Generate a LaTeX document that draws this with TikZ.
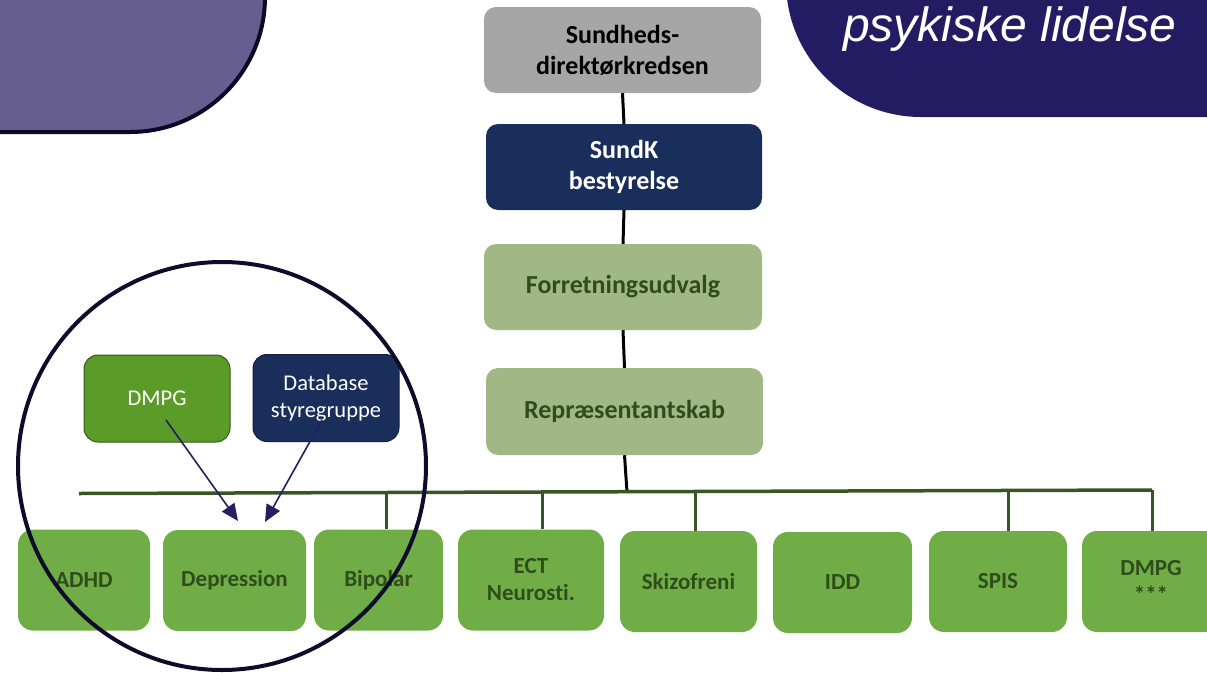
\documentclass[tikz,border=0pt]{standalone}
\usepackage{fontspec}
\setmainfont{Carlito}[Ligatures={NoCommon}]
\newfontfamily\arialfont{Liberation Sans}
\usetikzlibrary{arrows.meta}
\definecolor{purpleA}{HTML}{655E8F}
\definecolor{purpleEdge}{HTML}{0C0827}
\definecolor{navyTR}{HTML}{241C63}
\definecolor{grayBox}{HTML}{A6A6A6}
\definecolor{navyBox}{HTML}{1A2E5B}
\definecolor{oliveBox}{HTML}{A1B886}
\definecolor{darkGreenText}{HTML}{2F4D1B}
\definecolor{greenBox}{HTML}{70AD47}
\definecolor{dmpgGreen}{HTML}{5B9B28}
\definecolor{busGreen}{HTML}{375623}
\definecolor{arrowNavy}{HTML}{231F60}
\definecolor{circleCol}{HTML}{0F0B2A}
\begin{document}
\begin{tikzpicture}[x=1pt,y=-1pt,
  topbox/.style={rounded corners=12pt, inner sep=0pt, align=center,
    minimum width=277pt, minimum height=86pt,
    font=\bfseries\fontsize{26}{31}\selectfont},
  botbox/.style={rounded corners=15pt, inner sep=0pt, align=center,
    fill=greenBox, text=darkGreenText, minimum height=101pt,
    font=\bfseries\fontsize{23}{27}\selectfont},
  midbox/.style={rounded corners=14pt, inner sep=0pt, align=center,
    minimum width=146pt, minimum height=87pt, text=white, line width=1pt,
    font=\fontsize{22.5}{27}\selectfont},
  blackline/.style={line width=3pt, black},
  busline/.style={line width=3.5pt, busGreen},
  dropline/.style={line width=3pt, busGreen},
  navyarrow/.style={line width=1.6pt, arrowNavy, -{Triangle[length=17pt,width=15pt]}}
]
\useasboundingbox (0,0) rectangle (1207,672);
\clip (0,0) rectangle (1207,672);

% corner decorations
\draw[fill=purpleA, draw=purpleEdge, line width=4pt, rounded corners=135pt]
  (-300,-300) rectangle (265,132);
\fill[navyTR, rounded corners=135pt] (786,117) rectangle (1500,-300);
\node[anchor=base west, inner sep=0pt, text=white,
  font=\arialfont\itshape\fontsize{48}{58}\selectfont] (title) at (843,41) {psykiske lidelse};

% central column
\node[topbox, fill=grayBox, text=black] (sd) at (622.5,50) {Sundheds-\\direktørkredsen};
\node[topbox, fill=navyBox, text=white, minimum width=276pt] (sk) at (624,167) {SundK\\bestyrelse};
\node[topbox, fill=oliveBox, text=darkGreenText, minimum width=278pt] (fu) at (623,287) {Forretningsudvalg};
\node[topbox, fill=oliveBox, text=darkGreenText, minimum height=87pt] (rp) at (624.5,411.5) {Repræsentantskab};

\draw[blackline] (sd.south) -- (sk.north);
\draw[blackline] (sk.south) -- (fu.north);
\draw[blackline] (fu.south) -- (rp.north);

% bus
\coordinate (busL) at (79,493.5);
\coordinate (busR) at (1152,490);
\coordinate (busM) at (627,492);
\draw[blackline] (rp.south) -- (busM);
\draw[busline] (busL) -- (busR);

% bottom boxes
\node[botbox, minimum width=132pt] (adhd) at (84,580) {ADHD};
\node[botbox, minimum width=143pt] (dep) at (234.5,580.5) {Depression};
\node[botbox, minimum width=129pt] (bip) at (378.5,580) {Bipolar};
\node[botbox, minimum width=146pt] (ect) at (531,580) {ECT\\Neurosti.};
\node[botbox, minimum width=137pt] (ski) at (688.5,581.5) {Skizofreni};
\node[botbox, minimum width=139pt] (idd) at (842.5,582.5) {IDD};
\node[botbox, minimum width=138pt] (spis) at (998,581.5) {SPIS};
\node[botbox, minimum width=138pt] (dmpgB) at (1151,581.5) {DMPG\\***};

% drops
\coordinate (d1) at (386,492.5);
\coordinate (d2) at (542,492);
\coordinate (d3) at (695,491.5);
\coordinate (d4) at (1008,490.5);
\draw[dropline] (d1) -- (d1 |- bip.north);
\draw[dropline] (d2) -- (d2 |- ect.north);
\draw[dropline] (d3) -- (d3 |- ski.north);
\draw[dropline] (d4) -- (d4 |- spis.north);
\draw[dropline] (busR) -- (busR |- dmpgB.north);

% inner boxes
\node[midbox, fill=dmpgGreen, draw=busGreen] (dmpg) at (157,398.5) {DMPG};
\node[midbox, fill=navyBox, draw=navyBox!70!black] (db) at (326,398) {Database\\styregruppe};

\coordinate (a1s) at (166,420);
\coordinate (a1e) at (238,521);
\coordinate (a2s) at (322,420);
\coordinate (a2e) at (265,522);
\draw[navyarrow] (a1s) -- (a1e);
\draw[navyarrow] (a2s) -- (a2e);

% circle
\draw[circleCol, line width=4pt] (222,466) circle[radius=204pt];
\end{tikzpicture}
\end{document}
